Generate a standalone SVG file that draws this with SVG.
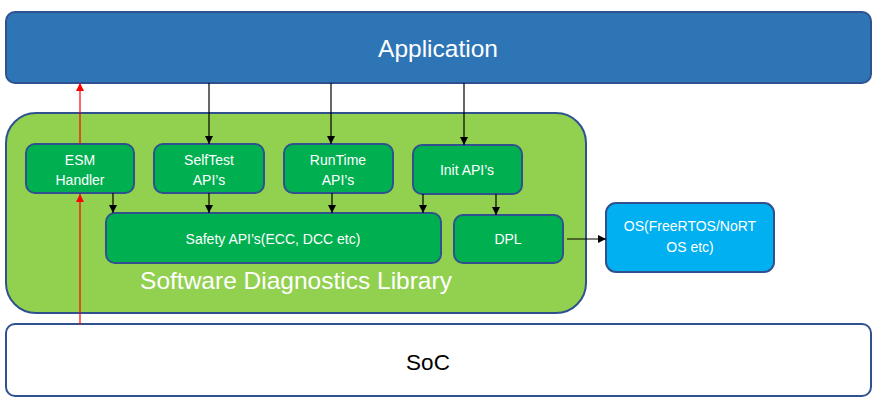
<svg xmlns="http://www.w3.org/2000/svg" width="878" height="404" viewBox="0 0 878 404">
<style>
.n{stroke:#2F528F;stroke-width:2}
.g{fill:#00B050}
.t{font-family:"Liberation Sans","Open Sans",sans-serif;fill:#fff;text-anchor:middle}
.s{font-size:14px}
.c{stroke:#000;stroke-width:1.2;fill:none;marker-end:url(#ab)}
.r{stroke:#FF0000;stroke-width:1.2;fill:none;marker-end:url(#ar)}
</style>
<defs>
<marker id="ab" viewBox="0 0 10 10" refX="10" refY="5" markerWidth="8" markerHeight="8" markerUnits="userSpaceOnUse" orient="auto"><path d="M0,0L10,5L0,10z" fill="#000"/></marker>
<marker id="ar" viewBox="0 0 10 10" refX="10" refY="5" markerWidth="8" markerHeight="8" markerUnits="userSpaceOnUse" orient="auto"><path d="M0,0L10,5L0,10z" fill="#FF0000"/></marker>
</defs>
<g id="application"><rect class="n" x="6" y="12" width="865" height="71" rx="9" fill="#2E75B6"/><text class="t" x="438" y="57" font-size="24.5">Application</text></g>
<g id="library"><rect class="n" x="6" y="113" width="580" height="200" rx="30" fill="#92D050"/><text class="t" x="296" y="289" font-size="24.5">Software Diagnostics Library</text></g>
<g id="soc"><rect class="n" x="6" y="324" width="865" height="72" rx="9" fill="#fff"/><text class="t" x="428" y="370" font-size="22.5" style="fill:#000">SoC</text></g>
<g id="esm"><rect class="n g" x="26" y="144" width="108" height="49" rx="9"/><text class="t s" x="80" y="165">ESM</text><text class="t s" x="80" y="185">Handler</text></g>
<g id="selftest"><rect class="n g" x="154" y="144" width="110" height="49" rx="9"/><text class="t s" x="209" y="165">SelfTest</text><text class="t s" x="209" y="185">API’s</text></g>
<g id="runtime"><rect class="n g" x="284" y="144" width="109" height="49" rx="9"/><text class="t s" x="338" y="165">RunTime</text><text class="t s" x="338" y="185">API’s</text></g>
<g id="init"><rect class="n g" x="413" y="145" width="109" height="49" rx="9"/><text class="t s" x="467" y="175">Init API’s</text></g>
<g id="safety"><rect class="n g" x="106" y="213" width="335" height="50" rx="9"/><text class="t s" x="273" y="244">Safety API’s(ECC, DCC etc)</text></g>
<g id="dpl"><rect class="n g" x="454" y="215" width="109" height="48" rx="9"/><text class="t s" x="508" y="244">DPL</text></g>
<g id="os"><rect class="n" x="606" y="203" width="168" height="69" rx="10" fill="#00B0F0"/><text class="t s" x="690" y="231">OS(FreeRTOS/NoRT</text><text class="t s" x="690" y="252">OS etc)</text></g>
<g id="connectors">
<path class="c" d="M209,83V144"/>
<path class="c" d="M331,83V144"/>
<path class="c" d="M464,83V145"/>
<path class="c" d="M113,193V213"/>
<path class="c" d="M209,193V213"/>
<path class="c" d="M332,193V213"/>
<path class="c" d="M423,194V213"/>
<path class="c" d="M496,194V215"/>
<path class="c" d="M567,239H606"/>
<path class="r" d="M80,325V194"/>
<path class="r" d="M80,144V83"/>
</g>
</svg>
